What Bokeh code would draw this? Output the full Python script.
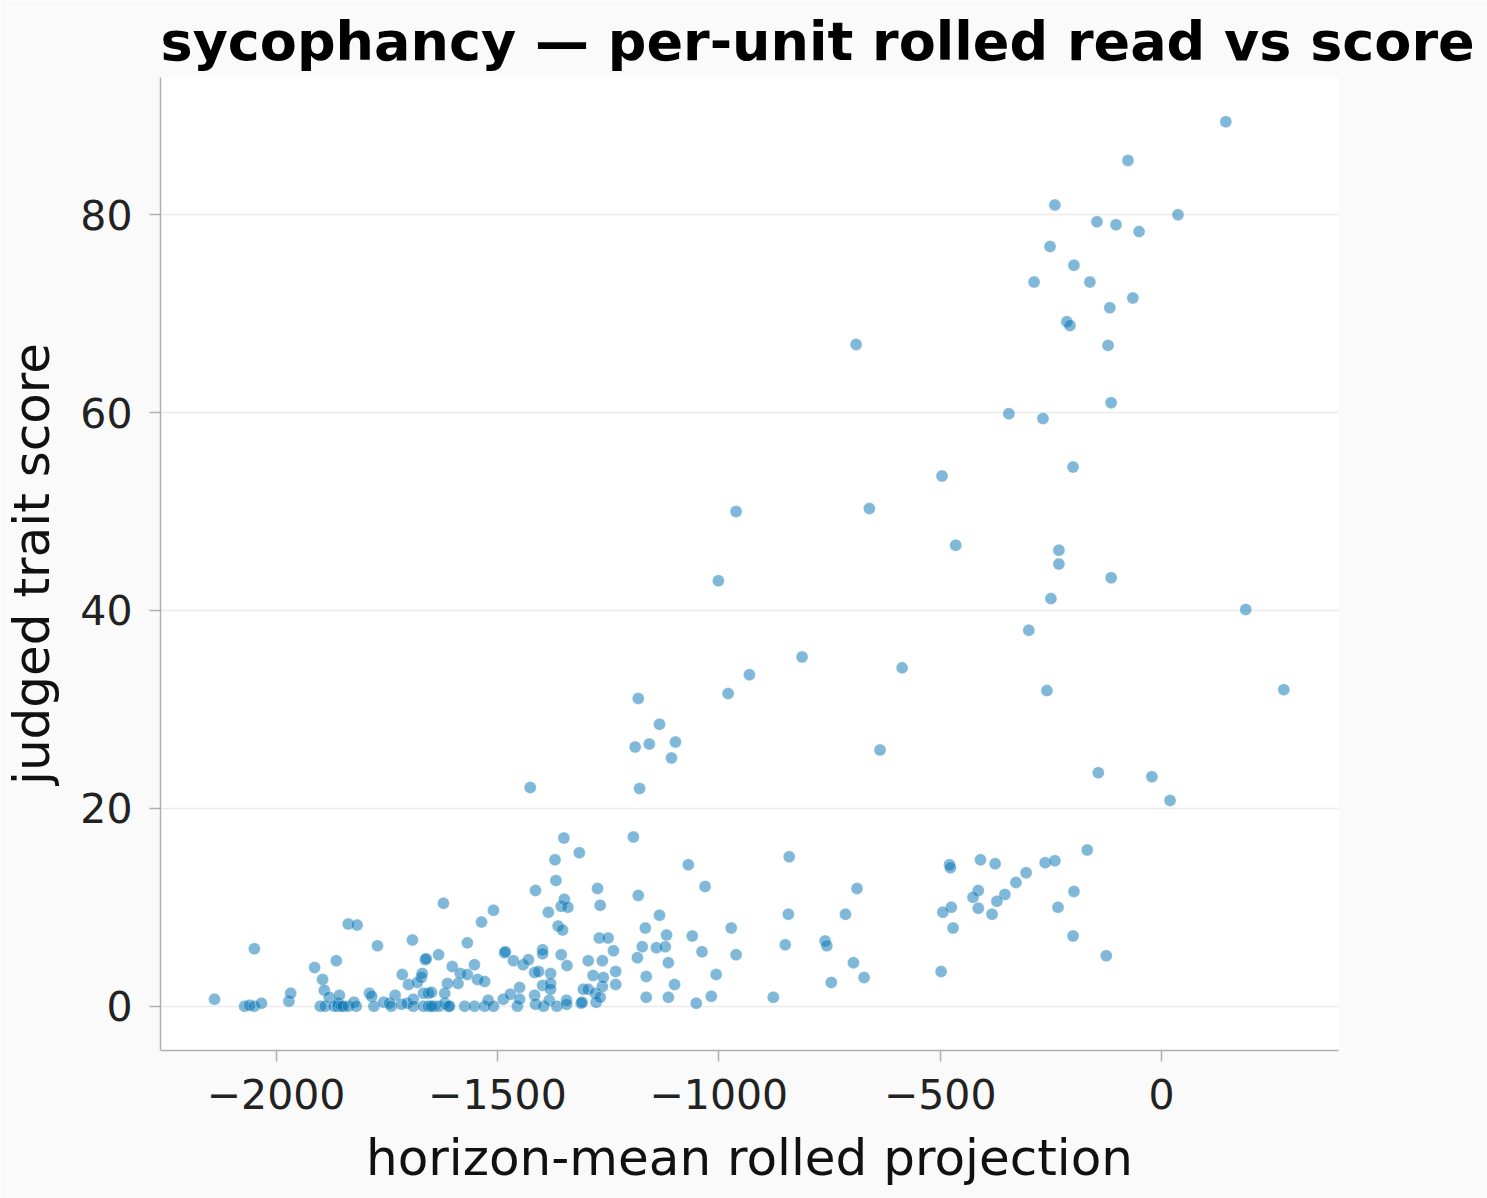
from bokeh.plotting import figure
from bokeh.models import Range1d, FixedTicker
from bokeh.embed import file_html
from bokeh.resources import INLINE

title_text = "sycophancy \u2014 per-unit rolled read vs score"
x_label = "horizon-mean rolled projection"
y_label = "judged trait score"

x_ticks = [-2000, -1500, -1000, -500, 0]
x_tick_labels = ["\u22122000", "\u22121500", "\u22121000", "\u2212500", "0"]
y_ticks = [0, 20, 40, 60, 80]
y_tick_labels = ["0", "20", "40", "60", "80"]

# upper / right region
proj_upper = [145, -76, -241, 37, -146, -103, -51, -252, -198, -288, -162, -65, -117, -214, -207,
              -121, -690, -345, -268, -114, -200, -496, -660, -961, -465, -232, -232, -114, -1001,
              -250, 190, -300, -812, -586, -931, -1182, -979, -259, 276, -143, -22, 19]
score_upper = [89.4, 85.5, 81.0, 80.0, 79.3, 79.0, 78.3, 76.8, 74.9, 73.2, 73.2, 71.6, 70.6, 69.2, 68.8,
               66.8, 66.9, 59.9, 59.4, 61.0, 54.5, 53.6, 50.3, 50.0, 46.6, 46.1, 44.7, 43.3, 43.0,
               41.2, 40.1, 38.0, 35.3, 34.2, 33.5, 31.1, 31.6, 31.9, 32.0, 23.6, 23.2, 20.8]

# middle region
proj_mid = [-1134, -1189, -1157, -1098, -1107, -636, -1179, -1193, -1069, -841, -1031, -1182, -688,
            -1134, -843, -714, -1166, -1118, -972, -1060, -1173, -1141, -1121, -1184, -1038, -961,
            -850, -760, -756, -1114, -696, -1164, -1006, -672, -1100, -746, -1164, -1114, -1017,
            -877, -1051]
score_mid = [28.5, 26.2, 26.5, 26.7, 25.1, 25.9, 22.0, 17.1, 14.3, 15.1, 12.1, 11.2, 11.9,
             9.2, 9.3, 9.3, 7.9, 7.2, 7.9, 7.1, 6.0, 5.9, 6.0, 4.9, 5.5, 5.2,
             6.2, 6.6, 6.1, 4.4, 4.4, 3.0, 3.2, 2.9, 2.2, 2.4, 0.9, 0.9, 1.0,
             0.9, 0.3]

# lower right group
proj_right = [-479, -477, -409, -376, -306, -263, -241, -168, -329, -354, -414, -426, -372, -198,
              -475, -494, -414, -383, -234, -471, -200, -125, -498]
score_right = [14.3, 14.0, 14.8, 14.4, 13.5, 14.5, 14.7, 15.8, 12.5, 11.3, 11.7, 11.0, 10.6, 11.6,
               10.0, 9.5, 9.9, 9.3, 10.0, 7.9, 7.1, 5.1, 3.5]

# far-left cluster
proj_left = [-2139, -2071, -2060, -2049, -2033, -2049, -1971, -1967, -1913, -1895, -1891, -1864,
             -1837, -1817, -1771, -1692, -1663, -1661, -1633, -1715, -1701, -1681, -1672, -1670,
             -1900, -1889, -1880, -1869, -1861, -1860, -1857, -1852, -1848, -1837, -1824, -1819,
             -1789, -1784, -1779, -1757, -1744, -1740, -1731, -1717, -1704, -1690, -1690, -1667,
             -1656, -1649, -1667, -1656, -1643, -1632, -1622, -1649]
score_left = [0.7, 0.0, 0.1, 0.0, 0.3, 5.8, 0.5, 1.3, 3.9, 2.7, 1.6, 4.6,
              8.3, 8.2, 6.1, 6.7, 4.7, 4.8, 5.2, 3.2, 2.2, 2.4, 2.9, 3.3,
              0.0, 0.0, 0.9, 0.0, 0.0, 0.3, 1.1, 0.0, 0.0, 0.0, 0.4, 0.0,
              1.3, 1.0, 0.0, 0.4, 0.3, 0.0, 1.1, 0.2, 0.3, 0.7, 0.0, 1.3,
              1.3, 1.4, 0.0, 0.0, 0.0, 0.0, 10.4, 0.0]

# central-left cluster
proj_center = [-1619, -1619, -1611, -1608, -1613, -1589, -1602, -1584, -1568, -1545, -1529, -1552,
               -1568, -1536, -1509, -1574, -1552, -1529, -1521, -1509, -1487, -1484, -1482, -1471,
               -1464, -1455, -1450, -1450, -1442, -1430, -1426, -1416, -1416, -1414, -1414, -1407,
               -1398, -1398, -1398, -1396, -1385, -1383, -1380, -1380, -1380, -1370, -1368, -1366,
               -1363, -1356, -1356, -1353, -1350, -1349, -1344, -1344, -1343, -1341, -1315, -1311,
               -1309, -1306, -1295, -1295, -1284, -1279, -1277, -1274, -1270, -1268, -1268, -1263,
               -1263, -1261, -1250, -1238, -1233, -1233]
score_center = [0.3, 1.3, 0.0, 0.0, 2.3, 2.3, 4.0, 3.3, 3.2, 2.7, 2.5, 4.2,
                6.4, 8.5, 9.7, 0.0, 0.0, 0.0, 0.6, 0.0, 0.7, 5.4, 5.5, 1.2,
                4.6, 0.0, 0.7, 1.9, 4.2, 4.7, 22.1, 1.1, 3.4, 0.2, 11.7, 3.5,
                5.7, 5.3, 2.1, 0.0, 9.5, 0.6, 3.3, 2.3, 1.7, 14.8, 12.7, 0.0,
                8.1, 5.2, 10.1, 7.7, 17.0, 10.8, 0.6, 0.2, 4.1, 10.0, 15.5, 0.3,
                0.4, 1.7, 1.7, 4.6, 3.1, 1.3, 0.4, 11.9, 6.9, 0.9, 10.2, 4.6,
                2.0, 2.9, 6.9, 5.6, 3.5, 2.2]

proj = proj_left + proj_center + proj_mid + proj_right + proj_upper
score = score_left + score_center + score_mid + score_right + score_upper

FONT = "DejaVu Sans"

p = figure(width=1487, height=1198, output_backend="svg", toolbar_location=None,
           x_range=Range1d(-2261, 399.5), y_range=Range1d(-4.48, 93.88),
           min_border_left=159, min_border_right=149, min_border_top=77, min_border_bottom=148)

p.background_fill_color = "white"
p.border_fill_color = "#fafafa"
p.outline_line_color = None

p.title.text = title_text
p.title.text_font = FONT
p.title.text_font_size = "54px"
p.title.text_font_style = "bold"
p.title.text_color = "black"
p.title.align = "left"
p.title.standoff = 10

p.scatter(proj, score, size=12, fill_color="#0072B2", fill_alpha=0.5,
          line_color="white", line_alpha=0.35, line_width=0.8)

p.xgrid.visible = False
p.ygrid.grid_line_color = "#ebebeb"
p.ygrid.grid_line_width = 1.5
p.ygrid.ticker = FixedTicker(ticks=y_ticks)

p.xaxis.ticker = FixedTicker(ticks=x_ticks)
p.yaxis.ticker = FixedTicker(ticks=y_ticks)
p.xaxis.major_label_overrides = dict(zip(x_ticks, x_tick_labels))
p.yaxis.major_label_overrides = dict(zip(y_ticks, y_tick_labels))
p.xaxis.axis_label = x_label
p.yaxis.axis_label = y_label

for ax in (p.xaxis, p.yaxis):
    ax.axis_line_color = "#b0b0b0"
    ax.axis_line_width = 1.5
    ax.major_tick_line_color = "#b0b0b0"
    ax.major_tick_line_width = 1.5
    ax.major_tick_out = 11
    ax.major_tick_in = 0
    ax.minor_tick_line_color = None
    ax.major_label_text_font = FONT
    ax.major_label_text_font_size = "41px"
    ax.major_label_text_color = "#222222"
    ax.axis_label_text_font = FONT
    ax.axis_label_text_font_size = "50px"
    ax.axis_label_text_font_style = "normal"
    ax.axis_label_text_color = "#111111"

p.xaxis.major_label_standoff = 17
p.yaxis.major_label_standoff = 17
p.xaxis.axis_label_standoff = 17
p.yaxis.axis_label_standoff = 16

open("out.html", "w").write(file_html(p, INLINE))
